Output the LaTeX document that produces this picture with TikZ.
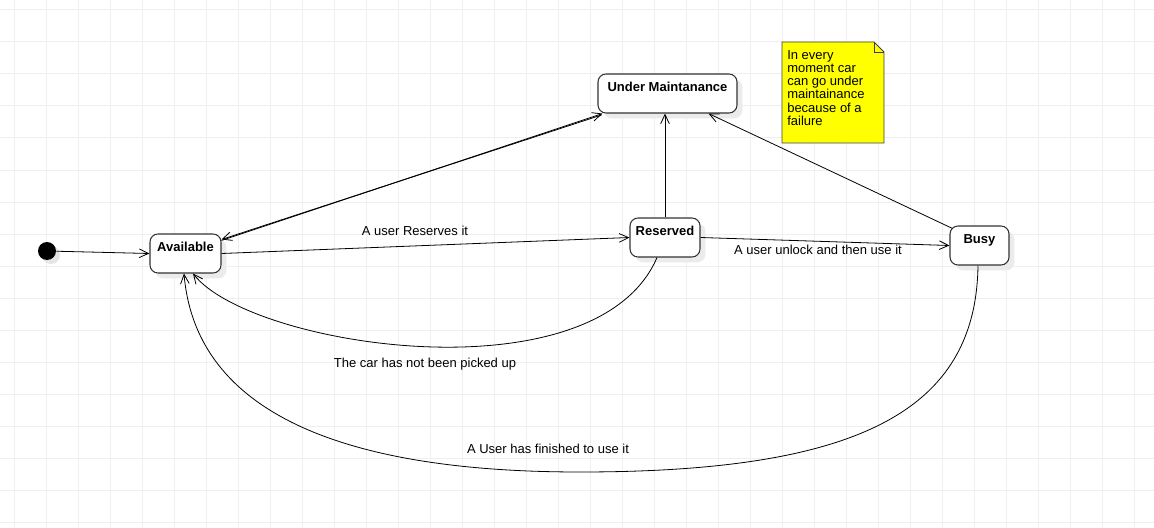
\documentclass[tikz,border=0pt]{standalone}
\usepackage{fontspec}
\setmainfont{Liberation Sans}
\usetikzlibrary{arrows.meta,calc,positioning,shadows}
\definecolor{noteyellow}{HTML}{FFFF00}
\definecolor{gridgray}{HTML}{EFEFEF}

\begin{document}
\begin{tikzpicture}[x=0.75pt,y=-0.75pt,
  state/.style={draw=black!80,line width=0.8pt,fill=white,rounded corners=6pt,
    minimum height=29.25pt,text height=7pt,text depth=9.8pt,inner sep=0pt,
    font=\fontsize{9.75}{11.7}\selectfont\bfseries,
    drop shadow={shadow xshift=4pt,shadow yshift=-4pt,fill=black!8,opacity=1}},
  trans/.style={-{Straight Barb[length=7pt,width=6.5pt]},line width=0.6pt},
  lbl/.style={font=\fontsize{9.75}{11.7}\selectfont,inner sep=0pt,anchor=base}]
  \useasboundingbox[fill=white] (0,0) rectangle (1154,528);
  \foreach \gx in {14,46,...,1134} \draw[gridgray,line width=0.75pt] (\gx,0) -- (\gx,528);
  \foreach \gy in {10,42,...,522} \draw[gridgray,line width=0.75pt] (0,\gy) -- (1154,\gy);

  \node[circle,fill=black,minimum size=13.5pt,inner sep=0pt,
    drop shadow={shadow xshift=3pt,shadow yshift=-3pt,fill=black!10,opacity=1}] (init) at (47,251) {};
  \node[state,minimum width=53.25pt] (avail) at (185.5,253.5) {Available};
  \node[state,minimum width=104.25pt] (um) at (667.5,93.5) {Under Maintanance};
  \node[state,minimum width=52.5pt] (reserved) at (665,237.5) {Reserved};
  \node[state,minimum width=44.25pt] (busy) at (979.5,245.5) {Busy};

  \filldraw[fill=noteyellow,draw=black!75,line width=0.6pt]
    (782,42) -- (874,42) -- (884,52) -- (884,143) -- (782,143) -- cycle;
  \draw[black!75,line width=0.6pt] (874,42) -- (874,52) -- (884,52);
  \node[font=\fontsize{9.75}{9.9}\selectfont,align=left,inner sep=0pt,anchor=north west]
    (note) at (787,50) {In every\\moment car\\can go under\\maintainance\\because of a\\failure};

  \draw[trans] (init) -- (avail.west);
  \draw[trans] ($(avail.north east)+(0,7)$) -- ($(um.south west)+(5,0)$);
  \draw[trans] ($(um.south west)+(4,1.5)$) -- ($(avail.north east)+(0,6)$);
  \draw[trans] (avail.east) -- (reserved.west);
  \draw[trans] (reserved.north) -- (reserved.north |- um.south);
  \draw[trans] (reserved.east) -- (busy.west);
  \draw[trans] ($(busy.north west)+(3,3)$) -- ($(um.south east)+(-29,0)$);
  \draw[trans] ($(reserved.south)+(-8,0)$) .. controls +(-61,142) and +(58,74) .. ($(avail.south)+(7.5,0)$);
  \coordinate (finbot) at (580,472);
  \draw[trans] ($(busy.south)+(-1.5,0)$) .. controls +(-2,145) and +(279,0) .. (finbot)
    .. controls +(-257,0) and +(11,129) .. ($(avail.south)+(-1.5,0)$);

  \node[lbl] (lblres) at (415,235) {A user Reserves it};
  \node[lbl] (lblunlock) at (818,254) {A user unlock and then use it};
  \node[lbl] (lblpick) at (425,367) {The car has not been picked up};
  \node[lbl] (lblfin) at (548,453) {A User has finished to use it};
\end{tikzpicture}
\end{document}
